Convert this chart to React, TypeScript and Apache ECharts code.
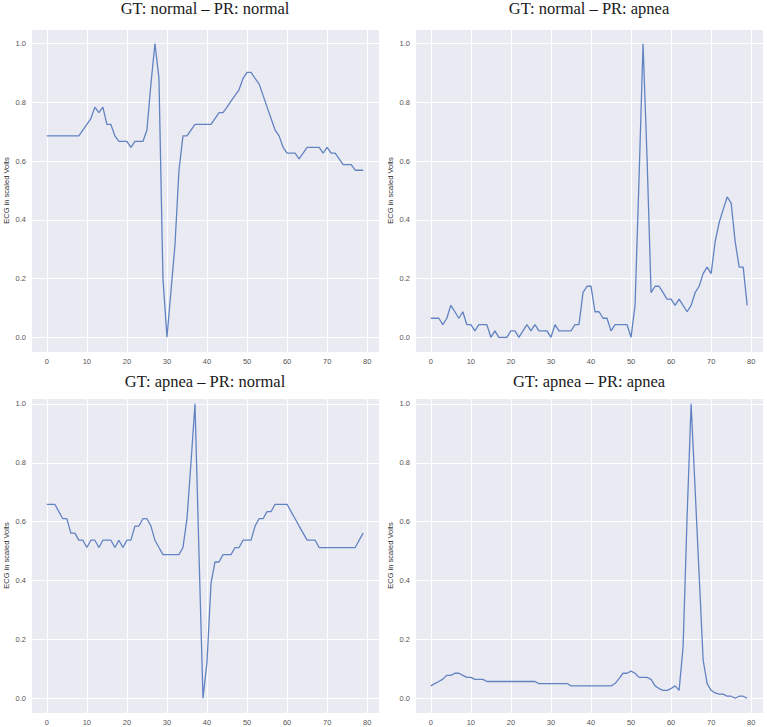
import React, { useEffect, useRef } from "react";
import * as echarts from "echarts";

// ---- data ----
const titles = [
  "GT: normal \u2013 PR: normal",
  "GT: normal \u2013 PR: apnea",
  "GT: apnea \u2013 PR: normal",
  "GT: apnea \u2013 PR: apnea",
];

const normalNormal = [
  0.686, 0.686, 0.686, 0.686, 0.686, 0.686, 0.686, 0.686, 0.686, 0.706,
  0.725, 0.745, 0.784, 0.765, 0.784, 0.725, 0.725, 0.686, 0.667, 0.667,
  0.667, 0.647, 0.667, 0.667, 0.667, 0.706, 0.863, 1.0, 0.882, 0.2,
  0.0, 0.157, 0.314, 0.569, 0.686, 0.686, 0.706, 0.725, 0.725, 0.725,
  0.725, 0.725, 0.745, 0.765, 0.765, 0.784, 0.804, 0.824, 0.843, 0.882,
  0.902, 0.902, 0.882, 0.863, 0.824, 0.784, 0.745, 0.706, 0.686, 0.647,
  0.627, 0.627, 0.627, 0.608, 0.627, 0.647, 0.647, 0.647, 0.647, 0.627,
  0.647, 0.627, 0.627, 0.608, 0.588, 0.588, 0.588, 0.569, 0.569, 0.569,
];

const normalApnea = [
  0.065, 0.065, 0.065, 0.043, 0.065, 0.109, 0.087, 0.065, 0.087, 0.043,
  0.043, 0.022, 0.043, 0.043, 0.043, 0.0, 0.022, 0.0, 0.0, 0.0,
  0.022, 0.022, 0.0, 0.022, 0.043, 0.022, 0.043, 0.022, 0.022, 0.022,
  0.0, 0.043, 0.022, 0.022, 0.022, 0.022, 0.043, 0.043, 0.152, 0.174,
  0.174, 0.087, 0.087, 0.065, 0.065, 0.022, 0.043, 0.043, 0.043, 0.043,
  0.0, 0.109, 0.543, 1.0, 0.609, 0.152, 0.174, 0.174, 0.152, 0.13,
  0.13, 0.109, 0.13, 0.109, 0.087, 0.109, 0.152, 0.174, 0.217, 0.239,
  0.217, 0.326, 0.391, 0.435, 0.478, 0.457, 0.326, 0.239, 0.239, 0.109,
];

const apneaNormal = [
  0.659, 0.659, 0.659, 0.634, 0.61, 0.61, 0.561, 0.561, 0.537, 0.537,
  0.512, 0.537, 0.537, 0.512, 0.537, 0.537, 0.537, 0.512, 0.537, 0.512,
  0.537, 0.537, 0.585, 0.585, 0.61, 0.61, 0.585, 0.537, 0.512, 0.488,
  0.488, 0.488, 0.488, 0.488, 0.512, 0.61, 0.8, 1.0, 0.49, 0.0,
  0.122, 0.39, 0.463, 0.463, 0.488, 0.488, 0.488, 0.512, 0.512, 0.537,
  0.537, 0.537, 0.585, 0.61, 0.61, 0.634, 0.634, 0.659, 0.659, 0.659,
  0.659, 0.634, 0.61, 0.585, 0.561, 0.537, 0.537, 0.537, 0.512, 0.512,
  0.512, 0.512, 0.512, 0.512, 0.512, 0.512, 0.512, 0.512, 0.537, 0.561,
];

const apneaApnea = [
  0.042, 0.05, 0.057, 0.065, 0.078, 0.078, 0.085, 0.085, 0.078, 0.071,
  0.071, 0.064, 0.064, 0.064, 0.057, 0.057, 0.057, 0.057, 0.057, 0.057,
  0.057, 0.057, 0.057, 0.057, 0.057, 0.057, 0.057, 0.05, 0.05, 0.05,
  0.05, 0.05, 0.05, 0.05, 0.05, 0.042, 0.042, 0.042, 0.042, 0.042,
  0.042, 0.042, 0.042, 0.042, 0.042, 0.042, 0.05, 0.067, 0.085, 0.085,
  0.092, 0.085, 0.071, 0.071, 0.071, 0.064, 0.042, 0.033, 0.027, 0.027,
  0.033, 0.042, 0.027, 0.175, 0.62, 1.0, 0.71, 0.42, 0.13, 0.05,
  0.027, 0.018, 0.014, 0.014, 0.007, 0.007, 0.0, 0.007, 0.007, 0.0,
];

const seriesData = [normalNormal, normalApnea, apneaNormal, apneaApnea];
const yAxisName = "ECG in scaled Volts";

// ---- layout ----
const panels = [
  { left: 31, top: 29, width: 348, height: 323, yMax: 1.05, titleX: 205, titleY: 8 },
  { left: 415, top: 29, width: 348, height: 323, yMax: 1.05, titleX: 589, titleY: 8 },
  { left: 31, top: 398, width: 348, height: 315, yMax: 1.02, titleX: 205, titleY: 381 },
  { left: 415, top: 398, width: 348, height: 315, yMax: 1.02, titleX: 589, titleY: 381 },
];

const tickFont = "'Liberation Sans', Arial, sans-serif";
const tickColor = "#555555";

export default function App() {
  const ref = useRef<HTMLDivElement>(null);

  useEffect(() => {
    if (!ref.current) return;
    const chart = echarts.init(ref.current, undefined, { renderer: "svg" });

    const option: any = {
      animation: false,
      backgroundColor: "#ffffff",
      grid: panels.map((p) => ({
        left: p.left,
        top: p.top,
        width: p.width,
        height: p.height,
        show: true,
        backgroundColor: "#EAEAF2",
        borderWidth: 0,
      })),
      xAxis: panels.map((p, i) => ({
        type: "value",
        gridIndex: i,
        min: -3.95,
        max: 82.95,
        splitNumber: 8,
        axisLine: { show: false },
        axisTick: { show: false },
        axisLabel: {
          showMinLabel: false,
          showMaxLabel: false,
          color: tickColor,
          fontSize: 7.5,
          fontFamily: tickFont,
          margin: 5,
        },
        splitLine: { show: true, lineStyle: { color: "#ffffff", width: 1 } },
      })),
      yAxis: panels.map((p, i) => ({
        type: "value",
        gridIndex: i,
        min: -0.05,
        max: p.yMax,
        splitNumber: 5,
        name: yAxisName,
        nameLocation: "middle",
        nameGap: 21,
        nameTextStyle: { fontSize: 7.5, color: "#333333", fontFamily: tickFont },
        axisLine: { show: false },
        axisTick: { show: false },
        axisLabel: {
          showMinLabel: false,
          showMaxLabel: false,
          color: tickColor,
          fontSize: 7.5,
          fontFamily: tickFont,
          margin: 5,
          formatter: (v: number) => v.toFixed(1),
        },
        splitLine: { show: true, lineStyle: { color: "#ffffff", width: 1 } },
      })),
      series: seriesData.map((d, i) => ({
        type: "line",
        xAxisIndex: i,
        yAxisIndex: i,
        showSymbol: false,
        symbol: "none",
        data: d.map((v, k) => [k, v]),
        lineStyle: { color: "#6283C2", width: 1.3 },
        itemStyle: { color: "#6283C2" },
      })),
      graphic: panels.map((p, i) => ({
        type: "text",
        x: p.titleX,
        y: p.titleY,
        style: {
          text: titles[i],
          fontSize: 16.5,
          fontFamily: "'Liberation Serif', 'Times New Roman', serif",
          fill: "#1a1a1a",
          align: "center",
          verticalAlign: "middle",
        },
      })),
    };

    chart.setOption(option);
    return () => chart.dispose();
  }, []);

  return (
    <div
      ref={ref}
      style={{ position: "fixed", left: 0, top: 0, width: 767, height: 727, background: "#fff" }}
    />
  );
}
